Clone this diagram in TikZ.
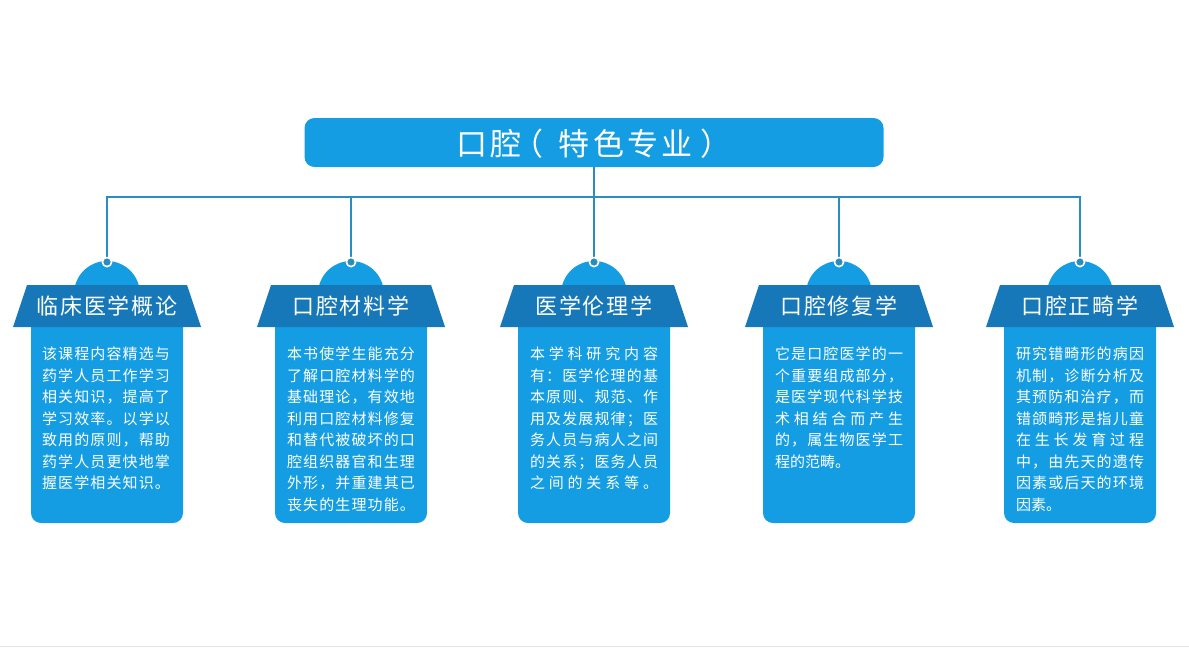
\documentclass[tikz,border=0pt]{standalone}
\usepackage{fontspec}
\newfontfamily\cjk{Noto Sans CJK SC}
\newfontfamily\cjkT[LetterSpace=11]{Noto Sans CJK SC}
\newfontfamily\cjkH[LetterSpace=8]{Noto Sans CJK SC}
\definecolor{lightblue}{RGB}{20,157,226}
\definecolor{darkblue}{RGB}{22,120,184}
\definecolor{linecol}{RGB}{42,140,192}
\newlength\bw
\setlength\bw{128pt}
\def\sprend{sprend}
\newcommand\spr[1]{\leavevmode\hbox to\bw{\sprA#1\sprend}}
\def\sprA#1{\ifx#1\sprend\else#1\expandafter\sprB\fi}
\def\sprB#1{\ifx#1\sprend\else\hfill#1\expandafter\sprB\fi}
\tikzset{
  conn/.style={draw=linecol, line width=1.8pt},
  dotnode/.style={circle, fill=linecol, draw=white, line width=1.5pt, inner sep=0pt, minimum size=9pt},
  headtext/.style={text=white, font=\cjkH\fontsize{22}{24}\selectfont, inner sep=0pt},
  bodytext/.style={text=white, font=\cjk\fontsize{15}{21.5}\selectfont, text width=128pt, align=left, inner sep=0pt, anchor=north},
  topbox/.style={fill=lightblue, rounded corners=10pt, minimum width=579pt, minimum height=49pt, inner sep=0pt}
}
\newcommand\column[3]{%
  \fill[lightblue] (#1,294) circle[radius=33];
  \fill[lightblue, rounded corners=10pt] (#1-76,300) rectangle (#1+76,523);
  \fill[darkblue] (#1-94,327) -- (#1+94,327) -- (#1+80,285) -- (#1-80,285) -- cycle;
  \node[headtext] (h#3) at (#1,306) {#2};
  \node[dotnode] (d#3) at (#1,262) {};
}
\begin{document}
\begin{tikzpicture}[x=1pt,y=-1pt]
\useasboundingbox (0,0) rectangle (1189,648);
\fill[white] (0,0) rectangle (1189,648);
\draw[black!10, line width=1pt] (0,646) -- (1189,646);
% top box
\node[topbox] (top) at (594,142.5) {};
\node[text=white, font=\cjkT\fontsize{31}{34}\selectfont, inner sep=0pt, anchor=base west] (toptext) at (456,155) {口腔\kern-9pt（\kern15pt特色专业\kern8pt）};
\coordinate (bus) at (594,197);
% columns
\column{107}{临床医学概论}{1}
\column{351}{口腔材料学}{2}
\column{594}{医学伦理学}{3}
\column{839}{口腔修复学}{4}
\column{1080}{口腔正畸学}{5}
% connectors
\draw[conn] (top.south) -- (bus);
\draw[conn] (bus) -| (d1.north);
\draw[conn] (bus) -| (d2.north);
\draw[conn] (bus) -- (d3.north);
\draw[conn] (bus) -| (d4.north);
\draw[conn] (bus) -| (d5.north);
\node[dotnode] at (d1) {};
\node[dotnode] at (d2) {};
\node[dotnode] at (d3) {};
\node[dotnode] at (d4) {};
\node[dotnode] at (d5) {};
% body texts
\node[bodytext] (b1) at (106,347) {\spr{该课程内容精选与}\\\spr{药学人员工作学习}\\\spr{相关知识，提高了}\\\spr{学习效率。以学以}\\\spr{致用的原则，帮助}\\\spr{药学人员更快地掌}\\\spr{握医学相关知识。}};
\node[bodytext] (b2) at (351,347) {\spr{本书使学生能充分}\\\spr{了解口腔材料学的}\\\spr{基础理论，有效地}\\\spr{利用口腔材料修复}\\\spr{和替代被破坏的口}\\\spr{腔组织器官和生理}\\\spr{外形，并重建其已}\\\spr{丧失的生理功能。}};
\node[bodytext] (b3) at (594,347) {\spr{本学科研究内容}\\\spr{有：医学伦理的基}\\\spr{本原则、规范、作}\\\spr{用及发展规律；医}\\\spr{务人员与病人之间}\\\spr{的关系；医务人员}\\\spr{之间的关系等。}};
\node[bodytext] (b4) at (839,347) {\spr{它是口腔医学的一}\\\spr{个重要组成部分，}\\\spr{是医学现代科学技}\\\spr{术相结合而产生}\\\spr{的，属生物医学工}\\程的范畴。};
\node[bodytext] (b5) at (1080,347) {\spr{研究错畸形的病因}\\\spr{机制，诊断分析及}\\\spr{其预防和治疗，而}\\\spr{错颌畸形是指儿童}\\\spr{在生长发育过程}\\\spr{中，由先天的遗传}\\\spr{因素或后天的环境}\\因素。};
\end{tikzpicture}
\end{document}
